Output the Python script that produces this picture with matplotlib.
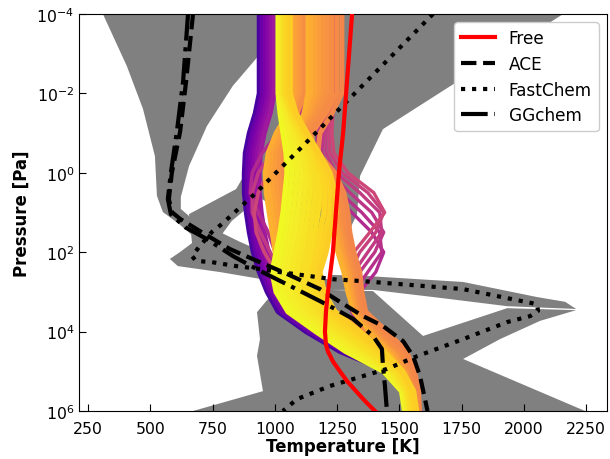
import numpy as np
import matplotlib
matplotlib.use("Agg")
import matplotlib.pyplot as plt

# ---------------------------------------------------------------------------
# Pressure grid (log10 Pa) shared by the sampled retrieval profiles
log_p_nodes = [-4, -2, -1.5, -1, -0.5, 0, 0.5, 1, 1.5, 2, 2.5, 3, 3.5, 4, 4.5, 5, 5.5, 6]

# Sampled temperature profiles [K], grouped by colour family (plasma value)
purple_shades = [0.12, 0.20, 0.24, 0.28, 0.31, 0.34]
purple_T = [
    [937, 937, 921, 897, 881, 877, 877, 885, 897, 913, 937, 969, 1013, 1125, 1261, 1453, 1521, 1541],
    [949, 949, 933, 909, 893, 889, 889, 897, 909, 925, 949, 981, 1029, 1141, 1277, 1461, 1525, 1545],
    [961, 961, 945, 921, 905, 901, 901, 909, 921, 937, 961, 993, 1045, 1157, 1293, 1469, 1529, 1549],
    [973, 973, 957, 933, 917, 913, 913, 921, 933, 949, 973, 1005, 1061, 1173, 1309, 1477, 1533, 1553],
    [985, 985, 969, 945, 929, 925, 925, 933, 945, 961, 985, 1017, 1077, 1189, 1325, 1485, 1541, 1561],
    [997, 997, 981, 957, 941, 937, 937, 945, 957, 973, 997, 1029, 1093, 1205, 1341, 1493, 1549, 1569],
]

magenta_shades = [0.40, 0.45, 0.50]
magenta_T = [
    [1101, 1101, 1069, 1013, 949, 909, 901, 933, 973, 1001, 1029, 1061, 1121, 1221, 1333, 1469, 1533, 1557],
    [1121, 1121, 1101, 1053, 989, 933, 909, 909, 941, 981, 1021, 1069, 1133, 1237, 1349, 1477, 1537, 1561],
    [1141, 1141, 1125, 1085, 1029, 973, 933, 917, 925, 957, 1005, 1061, 1125, 1229, 1341, 1473, 1537, 1561],
]

pink_shades = [0.40, 0.42, 0.44, 0.46, 0.48, 0.50]
pink_T = [
    [1205, 1205, 1189, 1173, 1165, 1181, 1229, 1309, 1389, 1437, 1405, 1341, 1309, 1349, 1421, 1493, 1541, 1565],
    [1213, 1213, 1197, 1181, 1177, 1201, 1261, 1349, 1421, 1429, 1373, 1317, 1309, 1361, 1429, 1497, 1545, 1569],
    [1221, 1221, 1209, 1193, 1189, 1221, 1301, 1389, 1437, 1401, 1341, 1301, 1317, 1373, 1437, 1501, 1549, 1569],
    [1229, 1229, 1217, 1205, 1205, 1245, 1341, 1421, 1429, 1373, 1317, 1293, 1325, 1381, 1445, 1505, 1549, 1573],
    [1237, 1237, 1225, 1217, 1221, 1269, 1373, 1437, 1405, 1341, 1301, 1293, 1333, 1389, 1449, 1509, 1553, 1573],
    [1245, 1245, 1233, 1229, 1237, 1293, 1397, 1441, 1381, 1317, 1289, 1301, 1341, 1397, 1453, 1509, 1553, 1573],
]

orange_left_shades = [0.83, 0.81, 0.79, 0.77, 0.75, 0.73]
orange_left_T = [
    [1069, 1069, 1053, 1005, 973, 961, 965, 977, 989, 1001, 1021, 1061, 1141, 1261, 1389, 1493, 1541, 1557],
    [1077, 1077, 1057, 1013, 981, 973, 981, 993, 1005, 1017, 1037, 1081, 1161, 1281, 1405, 1501, 1545, 1561],
    [1085, 1085, 1065, 1025, 993, 985, 997, 1009, 1021, 1033, 1053, 1101, 1181, 1301, 1421, 1509, 1549, 1565],
    [1097, 1097, 1073, 1037, 1005, 1001, 1013, 1025, 1037, 1049, 1069, 1121, 1201, 1321, 1437, 1517, 1553, 1569],
    [1109, 1109, 1081, 1049, 1021, 1017, 1029, 1041, 1053, 1065, 1085, 1141, 1221, 1341, 1453, 1525, 1557, 1573],
    [1121, 1121, 1089, 1061, 1037, 1033, 1045, 1057, 1069, 1081, 1101, 1161, 1241, 1361, 1469, 1533, 1561, 1577],
]

orange_right_shades = [0.83, 0.81, 0.79, 0.77, 0.75, 0.74, 0.73, 0.72, 0.71]
orange_right_T = [
    [1133, 1133, 1117, 1089, 1077, 1113, 1161, 1205, 1233, 1253, 1277, 1293, 1317, 1381, 1461, 1521, 1545, 1553],
    [1149, 1149, 1129, 1097, 1089, 1133, 1185, 1221, 1249, 1269, 1293, 1309, 1329, 1397, 1477, 1529, 1553, 1561],
    [1165, 1165, 1141, 1101, 1093, 1149, 1197, 1233, 1257, 1277, 1301, 1313, 1333, 1401, 1481, 1533, 1557, 1565],
    [1181, 1181, 1153, 1107, 1105, 1165, 1213, 1245, 1265, 1285, 1309, 1321, 1337, 1409, 1489, 1537, 1561, 1567],
    [1197, 1197, 1165, 1113, 1113, 1181, 1229, 1257, 1277, 1293, 1317, 1329, 1345, 1417, 1497, 1545, 1565, 1571],
    [1213, 1213, 1177, 1121, 1121, 1193, 1237, 1265, 1281, 1297, 1321, 1331, 1347, 1421, 1501, 1547, 1567, 1573],
    [1229, 1229, 1189, 1133, 1133, 1205, 1249, 1273, 1289, 1305, 1329, 1337, 1353, 1429, 1509, 1553, 1571, 1575],
    [1249, 1249, 1205, 1149, 1149, 1221, 1261, 1281, 1293, 1309, 1333, 1341, 1357, 1437, 1517, 1557, 1573, 1577],
    [1269, 1269, 1229, 1181, 1173, 1241, 1277, 1293, 1301, 1317, 1341, 1349, 1365, 1449, 1529, 1561, 1577, 1581],
]

yellow_shades = [1.00, 0.99, 0.98, 0.97, 0.96, 0.95, 0.94, 0.93, 0.92, 0.91, 0.90]
yellow_T = [
    [1013, 1013, 1021, 1033, 1045, 1049, 1041, 1033, 1021, 1005, 989, 1005, 1053, 1165, 1285, 1437, 1509, 1521],
    [1017, 1017, 1029, 1045, 1061, 1069, 1061, 1053, 1041, 1025, 1009, 1025, 1073, 1185, 1301, 1445, 1513, 1525],
    [1021, 1021, 1037, 1057, 1077, 1089, 1081, 1073, 1061, 1045, 1029, 1045, 1093, 1205, 1317, 1453, 1517, 1529],
    [1025, 1025, 1045, 1069, 1093, 1109, 1101, 1093, 1081, 1065, 1049, 1065, 1113, 1225, 1333, 1461, 1521, 1533],
    [1029, 1029, 1053, 1081, 1109, 1125, 1121, 1113, 1101, 1085, 1069, 1085, 1133, 1241, 1349, 1469, 1525, 1537],
    [1033, 1033, 1061, 1093, 1125, 1141, 1141, 1133, 1121, 1105, 1089, 1105, 1153, 1257, 1365, 1477, 1529, 1541],
    [1037, 1037, 1065, 1101, 1137, 1157, 1161, 1153, 1141, 1125, 1109, 1125, 1173, 1273, 1381, 1485, 1533, 1545],
    [1041, 1041, 1069, 1109, 1149, 1173, 1181, 1173, 1161, 1145, 1129, 1145, 1193, 1289, 1397, 1493, 1537, 1549],
    [1045, 1045, 1073, 1117, 1161, 1189, 1201, 1197, 1181, 1165, 1149, 1165, 1209, 1305, 1413, 1501, 1541, 1553],
    [1053, 1053, 1081, 1125, 1169, 1205, 1221, 1221, 1201, 1185, 1169, 1181, 1225, 1321, 1425, 1509, 1549, 1561],
    [1061, 1061, 1085, 1129, 1177, 1221, 1241, 1245, 1221, 1205, 1181, 1197, 1241, 1341, 1437, 1513, 1557, 1569],
]

# Best-fit profiles
free_logp = [-4, -3, -2, -1, 0, 1, 2, 3, 3.5, 4, 4.33, 4.5, 4.75, 5, 5.25, 5.5, 5.75, 6]
free_T = [1310, 1298, 1286, 1274, 1257, 1245, 1233, 1213, 1205, 1201, 1205, 1213, 1233, 1261, 1290, 1326, 1362, 1402]

ace_logp = [-4, -2.29, -1.03, 0, 0.66, 0.99, 1.16, 1.47, 1.92, 2.22, 2.50, 2.93, 3.25, 3.61, 3.86, 4.24, 4.62, 5.12, 6.0]
ace_T = [671, 643, 619, 586, 574, 586, 619, 699, 819, 928, 1032, 1181, 1261, 1354, 1434, 1515, 1555, 1583, 1613]

fastchem_logp = [-4, -0.68, -0.10, 0.48, 0.71, 1.29, 1.49, 1.87, 2.10, 2.22, 2.25, 2.35, 2.42, 2.50,
                 2.68, 2.73, 2.93, 3.31, 3.48, 3.61, 3.76, 4.19, 4.62, 4.94, 5.12, 5.37, 5.70, 6.0]
fastchem_T = [1635, 1113, 1020, 928, 888, 787, 747, 695, 667, 683, 747, 844, 936, 1020,
              1233, 1354, 1756, 2053, 2057, 2025, 1933, 1756, 1571, 1450, 1354, 1221, 1089, 1032]

ggchem_logp = [-4, -2.29, -1.03, 0, 0.66, 1.04, 1.37, 1.67, 2.10, 2.47, 2.85, 3.36, 3.68, 4.11, 4.44, 4.87, 5.37, 6.0]
ggchem_T = [651, 631, 606, 582, 570, 582, 639, 727, 832, 940, 1061, 1221, 1314, 1394, 1430, 1434, 1442, 1450]

# Uncertainty envelopes of the chemistry models (outlines in T [K], log10 P)
env_upper_left_T = [309, 405, 470, 518, 526, 550, 615, 667, 719, 831, 948, 1101,
                    1181, 1101, 980, 860, 739, 659, 622, 622, 655, 727, 831, 940, 1000, 1061]
env_upper_left_logp = [-4.0, -2.69, -1.61, -0.42, 0.58, 0.99, 1.29, 1.57, 1.82, 2.25, 2.68, 3.08,
                       2.68, 2.37, 2.07, 1.74, 1.37, 1.11, 0.91, 0.61, -0.17, -1.18, -2.19, -2.99, -3.50, -4.0]

env_upper_right_T = [1061, 2158, 1434, 1342, 1330, 1282, 1101, 948, 908, 827, 779, 860, 948, 1101,
                     1221, 1221, 1101, 948, 779, 610, 578, 618, 667, 655, 844, 884, 892, 932, 948]
env_upper_right_logp = [-4.0, -4.0, -1.10, 0.08, 1.04, 1.67, 1.29, 0.66, 0.79, 1.21, 1.62, 2.07, 2.30, 2.50,
                        2.70, 2.90, 2.83, 2.68, 2.50, 2.35, 2.17, 2.00, 1.77, 1.04, 0.41, -0.02, -0.60, -1.48, -2.87]

env_arm_T = [1221, 1370, 1756, 2053, 2166, 2210, 1933, 1663, 1394, 1221]
env_arm_logp = [2.57, 2.60, 2.75, 3.13, 3.25, 3.43, 3.36, 3.15, 2.95, 2.95]

env_deep_T = [2210, 2065, 1904, 1756, 2246, 671, 952, 928, 940, 928, 972, 1221, 1394, 1595, 1933]
env_deep_logp = [3.46, 3.73, 4.19, 4.69, 6.0, 6.0, 5.50, 4.61, 4.19, 3.51, 3.18, 2.95, 2.98, 4.11, 3.41]


def pressure(logp):
    return 10.0 ** np.asarray(logp, dtype=float)


fig = plt.figure(figsize=(6.1, 4.6), dpi=100)
ax = fig.add_axes([79 / 610, 48 / 460, 528 / 610, 397 / 460])
ax.set_yscale("log")

envelopes = [
    (env_upper_left_T, env_upper_left_logp),
    (env_upper_right_T, env_upper_right_logp),
    (env_arm_T, env_arm_logp),
    (env_deep_T, env_deep_logp),
]
for env_T, env_logp in envelopes:
    ax.fill(env_T, pressure(env_logp), color="#808080", lw=0, zorder=1)

cmap = plt.get_cmap("plasma")
p_nodes = pressure(log_p_nodes)
groups = [
    (purple_T, purple_shades, 3.6),
    (magenta_T, magenta_shades, 2.6),
    (pink_T, pink_shades, 2.4),
    (orange_left_T, orange_left_shades, 3.6),
    (orange_right_T, orange_right_shades, 3.6),
    (yellow_T, yellow_shades, 3.9),
]
for profiles, shades, width in groups:
    for temps, shade in zip(profiles, shades):
        ax.plot(temps, p_nodes, color=cmap(shade), lw=width, zorder=2,
                solid_joinstyle="round")

ax.plot(ace_T, pressure(ace_logp), color="black", ls="--", lw=3, zorder=4, label="ACE")
ax.plot(fastchem_T, pressure(fastchem_logp), color="black", ls=":", lw=3, zorder=4, label="FastChem")
ax.plot(ggchem_T, pressure(ggchem_logp), color="black", ls="-.", lw=3, zorder=4, label="GGchem")
ax.plot(free_T, pressure(free_logp), color="red", lw=3, zorder=5, label="Free")

handles, labels = ax.get_legend_handles_labels()
order = [labels.index(n) for n in ["Free", "ACE", "FastChem", "GGchem"]]
ax.legend([handles[i] for i in order], [labels[i] for i in order],
          loc="upper right", fontsize=12.2, labelspacing=0.45, framealpha=1.0)

ax.set_xlim(213, 2334)
ax.set_ylim(1e6, 1e-4)
ax.set_xticks([250, 500, 750, 1000, 1250, 1500, 1750, 2000, 2250])
ax.set_yticks([1e-4, 1e-2, 1e0, 1e2, 1e4, 1e6])
ax.yaxis.set_minor_locator(matplotlib.ticker.NullLocator())
ax.tick_params(direction="in", labelsize=11.3, length=5, top=False, right=False)
ax.tick_params(axis="x", pad=7)

ax.set_xlabel("Temperature [K]", fontsize=12, fontweight="bold", labelpad=1)
ax.set_ylabel("Pressure [Pa]", fontsize=12, fontweight="bold")

fig.savefig("out.png", dpi=100)
